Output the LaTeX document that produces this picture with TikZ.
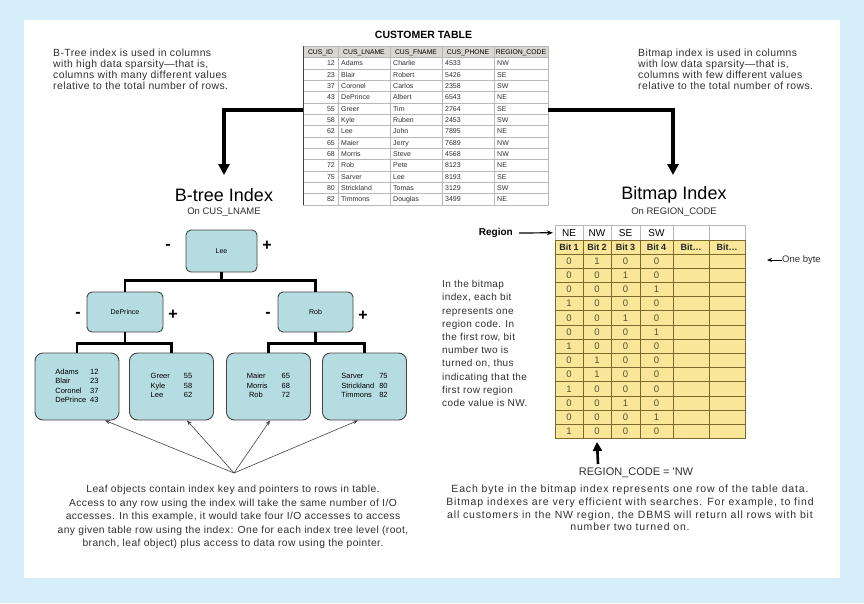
\documentclass[tikz,border=0pt]{standalone}
\usepackage{fontspec}
\setmainfont{Liberation Sans}
\newfontfamily\bodyfont[LetterSpace=4]{Liberation Sans}
\newfontfamily\bodyfontw[LetterSpace=8]{Liberation Sans}
\usetikzlibrary{arrows.meta,calc}
\definecolor{bgblue}{HTML}{D5EEF9}
\definecolor{treefill}{HTML}{B5DDE1}
\definecolor{treeline}{HTML}{454545}
\definecolor{bmyellow}{HTML}{F9E698}
\definecolor{bmline}{HTML}{7A6A2C}
\definecolor{hdrgray}{HTML}{D9D6D0}
\definecolor{tgrid}{HTML}{B8B8B8}
\definecolor{txtgray}{HTML}{303030}
\definecolor{digit}{HTML}{55532F}
\begin{document}
\begin{tikzpicture}[x=1pt,y=-1pt,
  body/.style={inner sep=0pt, font=\bodyfont\fontsize{10.4}{11}\selectfont, text=txtgray},
  tc/.style={inner sep=0pt, font=\fontsize{7}{8}\selectfont, text=txtgray},
  th/.style={inner sep=0pt, font=\fontsize{6.8}{8}\selectfont, text=black},
  title/.style={inner sep=0pt, font=\fontsize{18}{20}\selectfont},
  subtitle/.style={inner sep=0pt, font=\fontsize{9.5}{11}\selectfont, text=txtgray},
  bigarrow/.style={line width=3.3pt, -{Triangle[length=11pt,width=11pt]}},
  tnode/.style={draw=treeline, fill=treefill, line width=0.9pt, inner sep=0pt, rounded corners=5pt, font=\fontsize{7}{8}\selectfont},
  leafnode/.style={tnode, rounded corners=8pt, minimum width=84pt, minimum height=67pt, font=\fontsize{7.5}{9.5}\selectfont},
  tconn/.style={line width=2.6pt, black},
  sym/.style={inner sep=0pt, font=\bfseries\fontsize{16}{16}\selectfont},
  leafarr/.style={draw=treeline, line width=0.6pt, -{Stealth[length=5pt,width=4pt]}},
  hcell/.style={draw=tgrid, fill=white, inner sep=0pt, minimum height=14.5pt, font=\fontsize{10}{11}\selectfont},
  bcell/.style={draw=bmline, fill=bmyellow, line width=0.7pt, inner sep=0pt, minimum height=14.2pt, font=\fontsize{9.5}{11}\selectfont, text=digit},
  thinarr/.style={line width=1.2pt, -{Stealth[length=6pt,width=5pt]}}
]
% background
\fill[bgblue] (0,0) rectangle (864,603);
\fill[white] (24,20) rectangle (840,578);

% ---------- customer table ----------
\node[inner sep=0pt, font=\bfseries\fontsize{10.5}{12}\selectfont] (ctitle) at (423.5,35) {CUSTOMER TABLE};
\fill[hdrgray] (303,46) rectangle (548,57.5);
\foreach \i in {0,...,13} \draw[tgrid, line width=0.5pt] (303,{57.5+11.33*\i}) -- (548,{57.5+11.33*\i});
\foreach \x in {338,390,442,494} \draw[tgrid, line width=0.5pt] (\x,46) -- (\x,205);
\draw[tgrid, line width=0.6pt] (303,46) rectangle (548,205);
\draw[black!75, line width=1pt] (303,46) -- (303,205);
\node[minimum width=245pt, minimum height=159pt, inner sep=0pt] (ctab) at (425.5,125.5) {};
\foreach \hx/\hlab [count=\k] in {320.5/CUS\_ID, 364/CUS\_LNAME, 416/CUS\_FNAME, 468/CUS\_PHONE, 521/REGION\_CODE}
  \node[th, anchor=base] (chd\k) at (\hx,54.6) {\hlab};
\foreach \id/\ln/\fn/\ph/\rc [count=\i from 0] in {
12/Adams/Charlie/4533/NW, 23/Blair/Robert/5426/SE, 37/Coronel/Carlos/2358/SW,
43/DePrince/Albert/6543/NE, 55/Greer/Tim/2764/SE, 58/Kyle/Ruben/2453/SW,
62/Lee/John/7895/NE, 65/Maier/Jerry/7689/NW, 68/Morris/Steve/4568/NW,
72/Rob/Pete/8123/NE, 75/Sarver/Lee/8193/SE, 80/Strickland/Tomas/3129/SW,
82/Timmons/Douglas/3499/NE}
{
  \pgfmathsetmacro\by{57.5+11.33*\i+8.2}
  \node[tc, anchor=base east] (cid\i) at (335,\by) {\id};
  \node[tc, anchor=base west] (cln\i) at (341,\by) {\ln};
  \node[tc, anchor=base west] (cfn\i) at (393,\by) {\fn};
  \node[tc, anchor=base west] (cph\i) at (445,\by) {\ph};
  \node[tc, anchor=base west] (crc\i) at (497,\by) {\rc};
}

% ---------- side texts ----------
\node[body, anchor=west, align=left] (btreetxt) at (53,69.5) {B-Tree index is used in columns\\with high data sparsity—that is,\\columns with many different values\\relative to the total number of rows.};
\node[body, anchor=west, align=left] (bmaptxt) at (638,69.5) {Bitmap index is used in columns\\with low data sparsity—that is,\\columns with few different values\\relative to the total number of rows.};

% ---------- big arrows ----------
\coordinate (rowy) at (0,110);
\coordinate (tipL) at (224,175);
\coordinate (tipR) at (673,175);
\draw[bigarrow] (ctab.west |- rowy) -| (tipL);
\draw[bigarrow] (ctab.east |- rowy) -| (tipR);

% ---------- titles ----------
\node[title] (bttitle) at (224,195) {B-tree Index};
\node[subtitle] (btsub) at (224,212) {On CUS\_LNAME};
\node[title] (bmtitle) at (674,195) {Bitmap Index};
\node[subtitle] (bmsub) at (674,212) {On REGION\_CODE};

% ---------- B-tree ----------
\node[tnode, minimum width=71pt, minimum height=42pt] (lee) at (221.5,251) {Lee};
\node[tnode, minimum width=76pt, minimum height=40pt] (dep) at (125,312) {DePrince};
\node[tnode, minimum width=75pt, minimum height=40pt] (rob) at (315.5,312) {Rob};
\node[leafnode] (leaf1) at (77,386.5) {\begin{tabular}{@{}l@{\hspace{4pt}}l@{}}Adams&12\\Blair&23\\Coronel&37\\DePrince&43\end{tabular}};
\node[leafnode] (leaf2) at (171.5,386.5) {\begin{tabular}{@{}l@{\hspace{14pt}}l@{}}Greer&55\\Kyle&58\\Lee&62\end{tabular}};
\node[leafnode] (leaf3) at (268.5,386.5) {\begin{tabular}{@{}l@{\hspace{14pt}}l@{}}Maier&65\\Morris&68\\\ Rob&72\end{tabular}};
\node[leafnode] (leaf4) at (364.5,386.5) {\begin{tabular}{@{}l@{\hspace{5pt}}l@{}}Sarver&75\\Strickland&80\\Timmons&82\end{tabular}};

\draw[tconn] (lee.south) -- ++(0,8) -| (dep.north);
\draw[tconn] (lee.south) -- ++(0,8) -| (rob.north);
\draw[tconn] (dep.south) -- ++(0,11) -| (leaf1.north);
\draw[tconn] (dep.south) -- ++(0,11) -| (leaf2.north);
\draw[tconn] (rob.south) -- ++(0,11) -| (leaf3.north);
\draw[tconn] (rob.south) -- ++(0,11) -| (leaf4.north);

\node[sym] (leeminus) at (168,247) {-};
\node[sym] (leeplus) at (267,246) {+};
\node[sym] (depminus) at (78,315) {-};
\node[sym] (depplus) at (173,315) {+};
\node[sym] (robminus) at (268,315) {-};
\node[sym] (robplus) at (363,316) {+};

\coordinate (conv) at (234,473);
\draw[leafarr] (conv) -- ($(leaf1.south)+(28,0)$);
\draw[leafarr] (conv) -- ($(leaf2.south)+(15.5,0)$);
\draw[leafarr] (conv) -- ($(leaf3.south)+(1.5,0)$);
\draw[leafarr] (conv) -- ($(leaf4.south)+(-6.5,0)$);

\node[body, align=center, font=\bodyfont\fontsize{10.3}{13.4}\selectfont] (leaftxt) at (233,517) {Leaf objects contain index key and pointers to rows in table.\\Access to any row using the index will take the same number of I/O\\accesses. In this example, it would take four I/O accesses to access\\any given table row using the index: One for each index tree level (root,\\branch, leaf object) plus access to data row using the pointer.};

% ---------- Bitmap table ----------
\foreach \cx/\w/\hd/\bt [count=\c] in {569/28/NE/Bit 1, 597/28/NW/Bit 2, 625.5/29/SE/Bit 3, 656.5/33/SW/Bit 4, 691/36//Bit\ldots, 727/36//Bit\ldots}
{
  \node[hcell, minimum width=\w pt] (h\c) at (\cx,232.75) {\hd};
  \node[bcell, minimum width=\w pt, font=\bfseries\fontsize{9}{11}\selectfont, text=black!85] (bit\c) at (\cx,247) {\bt};
}
\foreach \va/\vb/\vc/\vd [count=\r from 1] in {0/1/0/0, 0/0/1/0, 0/0/0/1, 1/0/0/0, 0/0/1/0, 0/0/0/1, 1/0/0/0, 0/1/0/0, 0/1/0/0, 1/0/0/0, 0/0/1/0, 0/0/0/1, 1/0/0/0}
{
  \pgfmathsetmacro\yy{254+14.2*(\r-1)+7.1}
  \node[bcell, minimum width=28pt] (d\r-1) at (569,\yy) {\va};
  \node[bcell, minimum width=28pt] (d\r-2) at (597,\yy) {\vb};
  \node[bcell, minimum width=29pt] (d\r-3) at (625.5,\yy) {\vc};
  \node[bcell, minimum width=33pt] (d\r-4) at (656.5,\yy) {\vd};
  \node[bcell, minimum width=36pt] (d\r-5) at (691,\yy) {};
  \node[bcell, minimum width=36pt] (d\r-6) at (727,\yy) {};
}

\node[inner sep=0pt, anchor=east, font=\bfseries\fontsize{10}{12}\selectfont] (region) at (513,233) {Region};
\draw[thinarr] ([xshift=6pt]region.east) -- ([xshift=-2pt]h1.west);

\node[inner sep=0pt, anchor=west, font=\fontsize{9.5}{11}\selectfont, text=txtgray] (onebyte) at (782,260) {One byte};
\draw[line width=0.8pt, -{Stealth[length=5pt,width=4pt]}] (onebyte.west) -- ++(-15,0);

\node[body, anchor=west, align=left, font=\bodyfont\fontsize{10}{13.2}\selectfont] (bmexpl) at (442,343.5) {In the bitmap\\index, each bit\\represents one\\region code. In\\the first row, bit\\number two is\\turned on, thus\\indicating that the\\first row region\\code value is NW.};

\node[inner sep=0pt, font=\fontsize{11}{13}\selectfont, text=txtgray] (regcode) at (636,473) {REGION\_CODE = \textquotesingle NW};
\coordinate (uptail) at (598,464);
\draw[line width=2.6pt, -{Triangle[length=9pt,width=9pt]}] (uptail) -- ([yshift=-3pt]d13-2.south);

\node[body, align=center, font=\bodyfontw\fontsize{10.5}{12.6}\selectfont] (bmdesc) at (630,508) {Each byte in the bitmap index represents one row of the table data.\\Bitmap indexes are very efficient with searches. For example, to find\\all customers in the NW region, the DBMS will return all rows with bit\\number two turned on.};
\end{tikzpicture}
\end{document}
